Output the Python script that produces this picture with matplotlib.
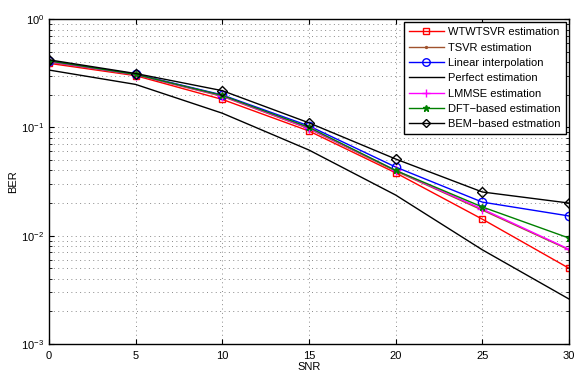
import matplotlib
matplotlib.use("Agg")
import matplotlib.pyplot as plt
import numpy as np

plt.rcParams['font.family'] = ['Liberation Sans', 'DejaVu Sans']
plt.rcParams['mathtext.fontset'] = 'custom'
plt.rcParams['mathtext.rm'] = 'Liberation Sans'

snr = [0, 5, 10, 15, 20, 25, 30]
wtwtsvr = [0.39, 0.300, 0.181, 0.0925, 0.038, 0.0142, 0.0050]
tsvr = [0.40, 0.305, 0.193, 0.097, 0.0395, 0.0172, 0.0074]
linear = [0.41, 0.310, 0.199, 0.103, 0.043, 0.0204, 0.0152]
perfect = [0.338, 0.249, 0.135, 0.0617, 0.0237, 0.0074, 0.0026]
lmmse = [0.405, 0.307, 0.195, 0.098, 0.0400, 0.0176, 0.0075]
dft = [0.41, 0.308, 0.197, 0.100, 0.040, 0.0184, 0.0095]
bem = [0.42, 0.314, 0.218, 0.110, 0.051, 0.0253, 0.0200]

labels = ['WTWTSVR estimation', 'TSVR estimation', 'Linear interpolation',
          'Perfect estimation', 'LMMSE estimation', 'DFT\u2212based estimation',
          'BEM\u2212based estmation']

fig = plt.figure(figsize=(5.75, 3.75), dpi=100)
ax = fig.add_axes([0.0852, 0.0827, 0.9044, 0.8666])

ax.semilogy(snr, wtwtsvr, color='red', marker='s', mfc='none', ms=5, lw=1, label=labels[0])
ax.semilogy(snr, tsvr, color='#a0522d', marker='.', ms=3, lw=1, label=labels[1])
ax.semilogy(snr, linear, color='blue', marker='o', mfc='none', ms=6, lw=1, label=labels[2])
ax.semilogy(snr, perfect, color='black', lw=1, label=labels[3])
ax.semilogy(snr, lmmse, color='magenta', marker='+', ms=7, lw=1, label=labels[4])
ax.semilogy(snr, dft, color='green', marker='*', ms=5, lw=1, label=labels[5])
ax.semilogy(snr, bem, color='black', marker='D', mfc='none', ms=5, lw=1, label=labels[6])

ax.set_xlim(0, 30)
ax.set_ylim(1e-3, 1)
ax.set_xticks([0, 5, 10, 15, 20, 25, 30])
ax.grid(True, which='major', linestyle=(0, (1, 3.5)), color='#8a8a8a', lw=0.7)
ax.grid(True, which='minor', axis='y', linestyle=(0, (1, 3.5)), color='#8a8a8a', lw=0.7)
ax.tick_params(which='both', direction='in', top=True, right=True, labelsize=8)
ax.tick_params(axis='x', pad=5)
for s in ax.spines.values():
    s.set_linewidth(1)
ax.set_xlabel('SNR', fontsize=8, labelpad=1)
ax.set_ylabel('BER', fontsize=8, labelpad=2)

leg = ax.legend(loc='upper right', fontsize=8, fancybox=False, framealpha=1,
                edgecolor='black', borderaxespad=0.3, handlelength=3.1,
                handletextpad=0.4, labelspacing=0.48, borderpad=0.45,
                markerscale=0.9)
leg.get_frame().set_linewidth(1)

fig.savefig('out.png', dpi=100)
